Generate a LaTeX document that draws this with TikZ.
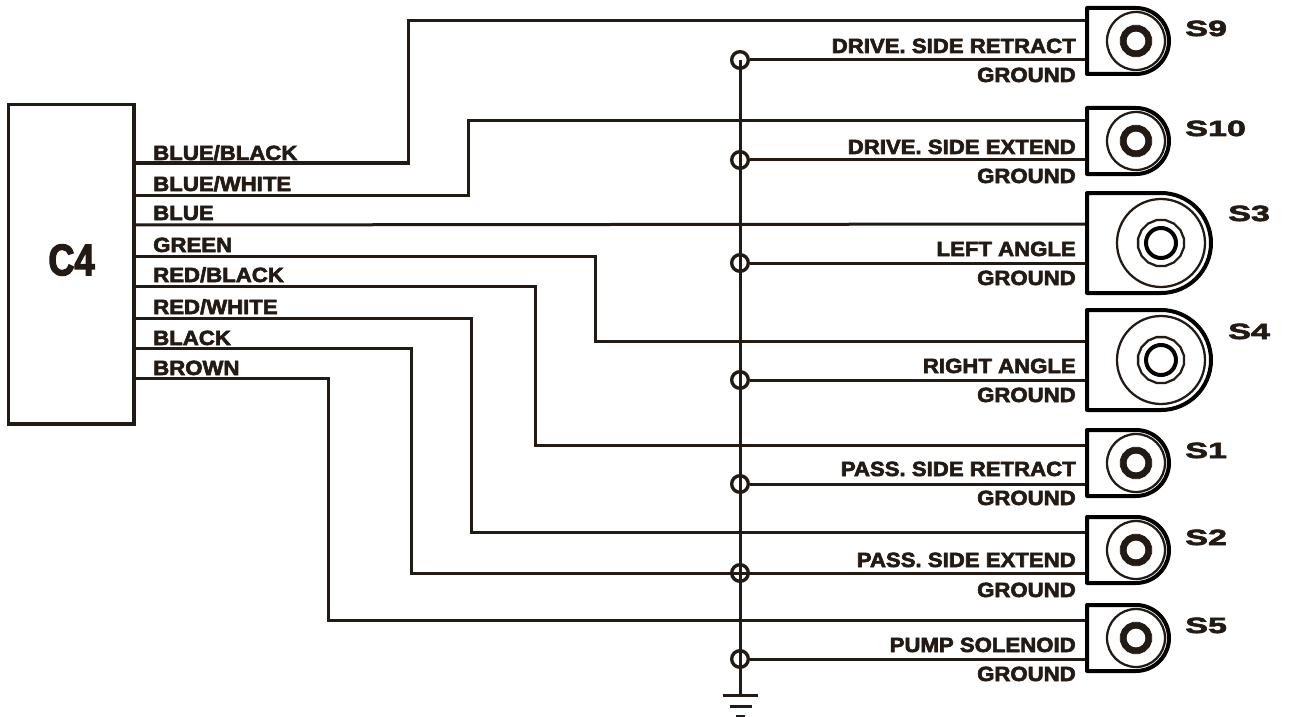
\documentclass[tikz,border=0pt]{standalone}
\usepackage{fontspec}
\usetikzlibrary{shapes.geometric}
\newfontfamily\labfont[FakeStretch=1.08,FakeBold=3]{Liberation Sans Bold}
\newfontfamily\sfont[FakeStretch=1.55,FakeBold=3]{Liberation Sans Bold}
\newfontfamily\cfont[FakeStretch=0.82,FakeBold=3]{Liberation Sans Bold}
\definecolor{ink}{HTML}{231A14}
\tikzset{
  wire/.style={draw=ink,line width=2.25pt,line join=miter},
  boxline/.style={draw=ink,line width=2.6pt},
  junc/.style={circle,draw=ink,line width=2.5pt,inner sep=0pt,minimum size=12.5pt},
  lab/.style={text=ink,inner sep=0pt,font=\labfont\fontsize{15.4pt}{15.4pt}\selectfont},
  leftlab/.style={lab,anchor=base west},
  rightlab/.style={lab,anchor=base east},
  slab/.style={text=ink,inner sep=0pt,anchor=base west,font=\sfont\fontsize{16.5pt}{16.5pt}\selectfont},
  body/.style={draw=black,line width=3pt,line join=round,fill=white},
  ringc/.style={circle,draw=ink,line width=1.7pt,inner sep=0pt},
  hubs/.style={regular polygon,regular polygon sides=16,draw=ink,fill=ink,inner sep=0pt,line width=.5pt},
  hubl/.style={regular polygon,regular polygon sides=16,draw=ink,fill=white,inner sep=0pt,line width=1.7pt},
  hole/.style={circle,fill=white,inner sep=0pt},
  holel/.style={circle,draw=black,fill=white,inner sep=0pt,line width=3pt}
}
% #1 name, #2 centre y
\newcommand{\smallsensor}[2]{%
  \draw[body] (1087,#2-33) -- (1136,#2-33) arc[start angle=-90,end angle=90,radius=33] -- (1087,#2+33) -- cycle;
  \node[ringc,minimum size=43.5pt] (#1ring) at (1136,#2) {};
  \node[hubs,minimum size=24pt] (#1hub) at (1136,#2) {};
  \node[hole,minimum size=14pt] (#1hole) at (1136,#2) {};
}
\newcommand{\largesensor}[2]{%
  \draw[body] (1087,#2-50) -- (1161,#2-50) arc[start angle=-90,end angle=90,radius=50] -- (1087,#2+50) -- cycle;
  \node[ringc,minimum size=66pt] (#1ring) at (1161,#2) {};
  \node[hubl,minimum size=35pt] (#1hub) at (1161,#2) {};
  \node[holel,minimum size=22.5pt] (#1hole) at (1161,#2) {};
}
\begin{document}
\begin{tikzpicture}[x=0.75pt,y=-0.75pt]
\useasboundingbox (0,0) rectangle (1290,717);
\fill[white] (0,0) rectangle (1290,717);
% C4 connector
\node[boxline,rectangle,minimum width=94pt,minimum height=239.6pt,inner sep=0pt,anchor=north west] (c4) at (7,102.8) {};
\node[text=ink,inner sep=0pt,font=\cfont\fontsize{33pt}{33pt}\selectfont] (c4lab) at (71.5,260) {C4};
% wire start points on C4
\coordinate (p1) at (134,163);
\coordinate (p2) at (134,195);
\coordinate (p3) at (134,225);
\coordinate (p4) at (134,256);
\coordinate (p5) at (134,286);
\coordinate (p6) at (134,318);
\coordinate (p7) at (134,348);
\coordinate (p8) at (134,378);
% sensor terminals
\foreach \n/\a/\b in {s9/21/60,s10/121/160,s3/224/263,s4/341/380,s1/445/484,s2/532/573,s5/620/659}{
  \coordinate (\n a) at (1087,\a);
  \coordinate (\n b) at (1087,\b);
}
% junctions
\node[junc] (j1) at (740,60) {};
\node[junc] (j2) at (740,160) {};
\node[junc] (j3) at (740,263) {};
\node[junc] (j4) at (740,380) {};
\node[junc] (j5) at (740,484) {};
\node[junc] (j6) at (740,573) {};
\node[junc] (j7) at (740,659) {};
\coordinate (gnd) at (740,695);
% signal wires
\draw[wire] (p1) -| (408,21) -- (s9a);
\draw[wire] (p2) -| (468,121) -- (s10a);
\draw[wire] (p3) -- (s3a);
\draw[wire] (p4) -| (595,341) -- (s4a);
\draw[wire] (p5) -| (535,445) -- (s1a);
\draw[wire] (p6) -| (471,532) -- (s2a);
\draw[wire] (p7) -| (411,573) -- (s2b);
\draw[wire] (p8) -| (328,620) -- (s5a);
% ground bus and returns
\draw[wire] (j1.center) -- (gnd);
\draw[wire] (j1) -- (s9b);
\draw[wire] (j2) -- (s10b);
\draw[wire] (j3) -- (s3b);
\draw[wire] (j4) -- (s4b);
\draw[wire] (j5) -- (s1b);
\draw[wire] (j7) -- (s5b);
% ground symbol
\draw[wire] (723,695) -- (758,695);
\draw[wire] (730,706) -- (752,706);
\draw[wire] (736,716) -- (745,716);
% sensors
\smallsensor{sa}{41}
\smallsensor{sb}{141}
\largesensor{sc}{243}
\largesensor{sd}{360}
\smallsensor{se}{463}
\smallsensor{sf}{550}
\smallsensor{sg}{638}
% left labels
\node[leftlab] (l1) at (153,160) {BLUE/BLACK};
\node[leftlab] (l2) at (153,191) {BLUE/WHITE};
\node[leftlab] (l3) at (153,220) {BLUE};
\node[leftlab] (l4) at (153,252) {GREEN};
\node[leftlab] (l5) at (153,282) {RED/BLACK};
\node[leftlab] (l6) at (153,314) {RED/WHITE};
\node[leftlab] (l7) at (153,345) {BLACK};
\node[leftlab] (l8) at (153,375) {BROWN};
% right labels
\node[rightlab] (r1) at (1076,53) {DRIVE. SIDE RETRACT};
\node[rightlab] (g1) at (1076,82) {GROUND};
\node[rightlab] (r2) at (1076,154) {DRIVE. SIDE EXTEND};
\node[rightlab] (g2) at (1076,183) {GROUND};
\node[rightlab] (r3) at (1076,256) {LEFT ANGLE};
\node[rightlab] (g3) at (1076,285) {GROUND};
\node[rightlab] (r4) at (1076,373) {RIGHT ANGLE};
\node[rightlab] (g4) at (1076,402) {GROUND};
\node[rightlab] (r5) at (1076,476) {PASS. SIDE RETRACT};
\node[rightlab] (g5) at (1076,505) {GROUND};
\node[rightlab] (r6) at (1076,567) {PASS. SIDE EXTEND};
\node[rightlab] (g6) at (1076,597) {GROUND};
\node[rightlab] (r7) at (1076,652) {PUMP SOLENOID};
\node[rightlab] (g7) at (1076,681) {GROUND};
% sensor labels
\node[slab] (n9) at (1185,36) {S9};
\node[slab] (n10) at (1185,136) {S10};
\node[slab] (n3) at (1228,221) {S3};
\node[slab] (n4) at (1228,339) {S4};
\node[slab] (n1) at (1185,458) {S1};
\node[slab] (n2) at (1185,545) {S2};
\node[slab] (n5) at (1185,633) {S5};
\end{tikzpicture}
\end{document}
